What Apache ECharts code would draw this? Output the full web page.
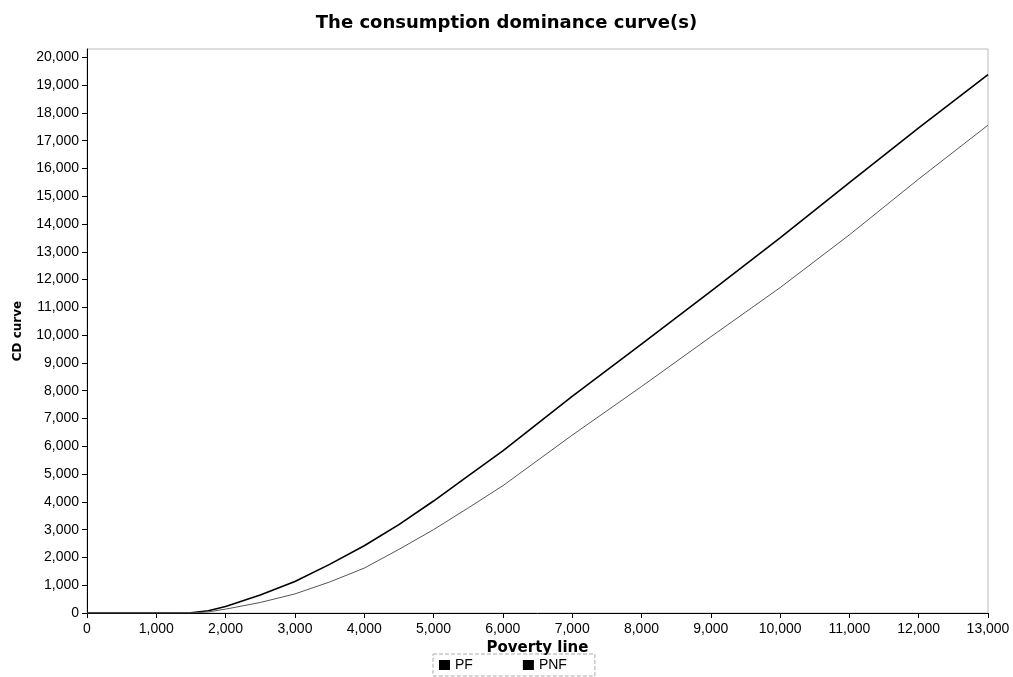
<!DOCTYPE html>
<html>
<head>
<meta charset="utf-8">
<script src="https://cdn.jsdelivr.net/npm/echarts@6/dist/echarts.min.js"></script>
<style>
html,body{margin:0;padding:0;background:#fff;}
#chart{width:1013px;height:677px;}
</style>
</head>
<body>
<div id="chart"></div>
<script>
// Data
var povertyLine = [0, 1000, 1500, 1750, 2000, 2500, 3000, 3500, 4000, 4500, 5000, 5500, 6000, 7000, 8000, 9000, 10000, 11000, 12000, 13000];
var pfValues    = [0, 0, 10, 80, 237, 644, 1133, 1750, 2420, 3180, 4030, 4935, 5835, 7795, 9680, 11580, 13500, 15490, 17460, 19380];
var pnfValues   = [0, 0, 5, 40, 140, 378, 687, 1115, 1615, 2290, 3000, 3780, 4580, 6400, 8150, 9940, 11710, 13610, 15620, 17560];
var seriesNames = ['PF', 'PNF'];
var yTickValues = [0,1000,2000,3000,4000,5000,6000,7000,8000,9000,10000,11000,12000,13000,14000,15000,16000,17000,18000,19000,20000];
var xTickValues = [0,1000,2000,3000,4000,5000,6000,7000,8000,9000,10000,11000,12000,13000];

function pairs(xs, ys) {
  return xs.map(function (x, i) { return [x, ys[i]]; });
}
function fmt(v) { return Number(v).toLocaleString('en-US'); }

var chart = echarts.init(document.getElementById('chart'), null, {renderer: 'canvas'});
chart.setOption({
  backgroundColor: '#fff',
  animation: false,
  title: {
    text: 'The consumption dominance curve(s)',
    left: 'center',
    top: 9,
    textStyle: {fontFamily: 'DejaVu Sans', fontWeight: 'bold', fontSize: 18, color: '#000'}
  },
  legend: {
    data: seriesNames,
    left: 433,
    top: 654,
    icon: 'rect',
    itemWidth: 11,
    itemHeight: 10,
    itemGap: 50,
    padding: [4, 28, 4, 6],
    borderColor: '#aaa',
    borderWidth: 1,
    borderType: 'dashed',
    textStyle: {fontFamily: 'Liberation Sans', fontSize: 14, color: '#000'}
  },
  grid: {
    left: 87,
    right: 25,
    top: 49,
    bottom: 64,
    show: true,
    borderColor: '#bbb',
    borderWidth: 1,
    containLabel: false
  },
  xAxis: {
    type: 'value',
    min: 0,
    max: 13000,
    interval: 1000,
    name: 'Poverty line',
    nameLocation: 'middle',
    nameGap: 19,
    nameTextStyle: {fontFamily: 'DejaVu Sans', fontWeight: 'bold', fontSize: 15, color: '#000'},
    axisLine: {show: true, lineStyle: {color: '#000', width: 1}},
    axisTick: {show: true, length: 5, customValues: xTickValues, lineStyle: {color: '#000'}},
    axisLabel: {
      customValues: xTickValues,
      margin: 9,
      fontFamily: 'Liberation Sans',
      fontSize: 14,
      color: '#000',
      formatter: fmt
    },
    splitLine: {show: false}
  },
  yAxis: {
    type: 'value',
    min: 0,
    max: 20300,
    interval: 1000,
    name: 'CD curve',
    nameLocation: 'middle',
    nameGap: 63,
    nameRotate: 90,
    nameTextStyle: {fontFamily: 'DejaVu Sans', fontWeight: 'bold', fontSize: 12, color: '#000'},
    axisLine: {show: true, lineStyle: {color: '#000', width: 1}},
    axisTick: {show: true, length: 5, customValues: yTickValues, lineStyle: {color: '#000'}},
    axisLabel: {
      customValues: yTickValues,
      margin: 8,
      fontFamily: 'Liberation Sans',
      fontSize: 14,
      color: '#000',
      formatter: fmt
    },
    splitLine: {show: false}
  },
  series: [
    {
      name: seriesNames[0],
      type: 'line',
      data: pairs(povertyLine, pfValues),
      showSymbol: false,
      smooth: false,
      itemStyle: {color: '#000'},
      lineStyle: {color: '#000', width: 1.6}
    },
    {
      name: seriesNames[1],
      type: 'line',
      data: pairs(povertyLine, pnfValues),
      showSymbol: false,
      smooth: false,
      itemStyle: {color: '#000'},
      lineStyle: {color: '#555', width: 1}
    }
  ]
});
</script>
</body>
</html>
